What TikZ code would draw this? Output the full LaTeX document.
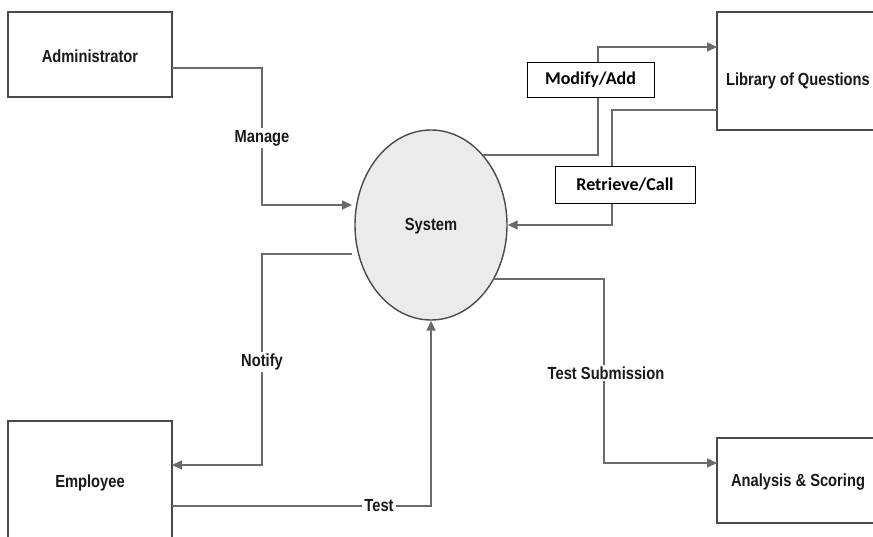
\documentclass[tikz,border=0pt]{standalone}
\usepackage{fontspec}
\setmainfont{Liberation Sans}
\newfontfamily\diafont[FakeStretch=0.84]{Liberation Sans}
\newfontfamily\lblfont{Carlito}
\usetikzlibrary{arrows.meta,shapes.geometric}
\definecolor{linegray}{HTML}{6A6A6A}
\definecolor{boxgray}{HTML}{4A4A4A}
\definecolor{sysfill}{HTML}{EBEBEB}
\tikzset{
  entity/.style={draw=boxgray, line width=1.4pt, fill=white, inner sep=0pt},
  process/.style={ellipse, draw=boxgray, line width=1.4pt, fill=sysfill,
    minimum width=152pt, minimum height=190pt, inner sep=0pt},
  txt/.style={font=\diafont\bfseries\fontsize{17.5}{20}\selectfont, text=black!90, inner sep=1pt},
  flowlabel/.style={txt, fill=white, inner sep=2pt},
  tag/.style={draw=black, line width=0.9pt, fill=white, inner sep=0pt,
    font=\lblfont\bfseries\fontsize{18}{21}\selectfont},
  flow/.style={draw=linegray, line width=1.5pt},
  arrowflow/.style={flow, -{Triangle[length=10pt,width=9pt]}},
}
\begin{document}
\begin{tikzpicture}[x=1pt,y=-1pt]
\useasboundingbox (0,0) rectangle (873,537);
\clip (0,0) rectangle (873,537);
\fill[white] (0,0) rectangle (873,537);

% external entities
\node[entity, minimum width=164pt, minimum height=85pt] (admin) at (90,54.5) {};
\node[txt] (admintxt) at (90,56) {Administrator};
\node[entity, minimum width=164pt, minimum height=124pt] (emp) at (90,483) {};
\node[txt] (emptxt) at (90,483) {Employee};
\node[entity, minimum width=162pt, minimum height=118pt] (lib) at (798,71) {};
\node[txt] (libtxt) at (798,81) {Library of Questions};
\node[entity, minimum width=162pt, minimum height=85pt] (ana) at (798,480.5) {};
\node[txt] (anatxt) at (798,482) {Analysis \& Scoring};

% central process
\node[process] (sys) at (431,225) {};
\node[txt] (systxt) at (431,226) {System};

% data flows
\coordinate (m0) at (172,68);
\coordinate (m1) at (352,205);
\draw[arrowflow] (m0) -| (262,205) -- (m1);

\coordinate (n0) at (352,254);
\coordinate (n1) at (172,465);
\draw[arrowflow] (n0) -| (262,465) -- (n1);

\coordinate (t0) at (172,506);
\draw[arrowflow] (t0) -| (sys.south);

\coordinate (a0) at (483,155);
\coordinate (a1) at (717,47);
\draw[arrowflow] (a0) -| (598,47) -- (a1);

\coordinate (r0) at (717,110);
\draw[arrowflow] (r0) -| (612,225) -- (sys.east);

\coordinate (s0) at (493,279);
\coordinate (s1) at (717,463);
\draw[arrowflow] (s0) -| (604,463) -- (s1);

% flow labels
\node[flowlabel] (lmanage) at (262,138) {Manage};
\node[flowlabel] (lnotify) at (262,362) {Notify};
\node[flowlabel] (ltest) at (379,506) {Test};
\node[flowlabel] (lsub) at (606,373) {Test Submission};
\node[tag, minimum width=127pt, minimum height=35pt] (lmod) at (590.5,79.5) {Modify/Add};
\node[tag, minimum width=140pt, minimum height=37pt] (lret) at (625,184.5) {Retrieve/Call};
\end{tikzpicture}
\end{document}
